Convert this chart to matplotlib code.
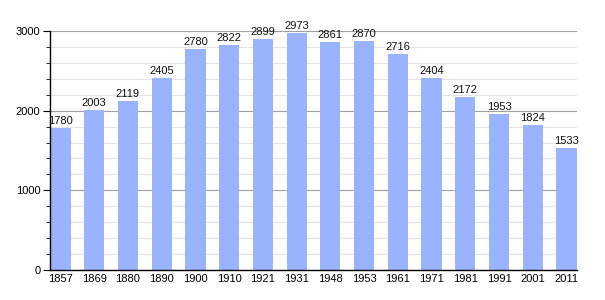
import matplotlib
matplotlib.use("Agg")
import matplotlib.pyplot as plt
from matplotlib.ticker import MultipleLocator

plt.rcParams["font.family"] = ["Liberation Sans", "DejaVu Sans"]

years = ["1857", "1869", "1880", "1890", "1900", "1910", "1921", "1931",
         "1948", "1953", "1961", "1971", "1981", "1991", "2001", "2011"]
population = [1780, 2003, 2119, 2405, 2780, 2822, 2899, 2973,
              2861, 2870, 2716, 2404, 2172, 1953, 1824, 1533]

fig = plt.figure(figsize=(6.05, 3.0), dpi=100)
ax = fig.add_axes([50/605, 30/300, 527/605, 239/300])

x = list(range(len(years)))
ax.bar(x, population, width=0.6, color="#99b3ff", zorder=2)
for xi, v in zip(x, population):
    ax.text(xi, v + 25, str(v), ha="center", va="bottom", fontsize=8,
            color="#111111", zorder=3)

ax.set_xlim(-0.31, len(years) - 0.69)
ax.set_ylim(0, 3000)
ax.set_xticks(x)
ax.set_xticklabels(years, fontsize=8)
ax.tick_params(axis="x", length=0, pad=3)
ax.yaxis.set_major_locator(MultipleLocator(1000))
ax.yaxis.set_minor_locator(MultipleLocator(200))
ax.tick_params(axis="y", which="major", length=5, labelsize=8, pad=2)
ax.tick_params(axis="y", which="minor", length=3)
ax.grid(axis="y", which="major", color="#a0a0a0", linewidth=0.8, zorder=1)
ax.grid(axis="y", which="minor", color="#e4e4e4", linewidth=0.8, zorder=1)
for s in ["top", "right"]:
    ax.spines[s].set_visible(False)
ax.spines["left"].set_linewidth(1.0)
ax.spines["bottom"].set_linewidth(1.0)
ax.set_axisbelow(True)

fig.savefig("out.png", dpi=100)
